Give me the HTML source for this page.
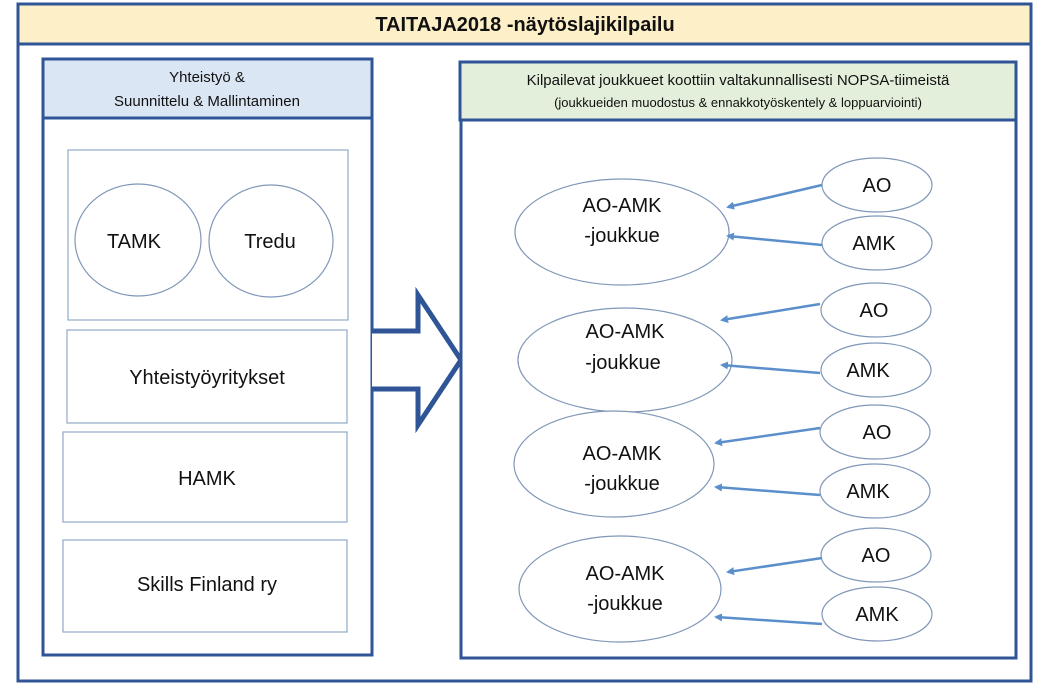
<!DOCTYPE html>
<html><head><meta charset="utf-8"><style>
body{margin:0;background:#fff;width:1042px;height:690px;overflow:hidden}
svg text{font-family:"Liberation Sans",sans-serif;fill:#111}
</style></head><body>
<svg width="1042" height="690" viewBox="0 0 1042 690">
<defs><marker id="a" markerWidth="8" markerHeight="8" refX="6" refY="4" orient="auto" markerUnits="userSpaceOnUse"><path d="M0,0 L8,4 L0,8 z" fill="#5b8fcc"/></marker></defs>
<rect x="18" y="4" width="1013" height="40" fill="#fdefc8" stroke="#2f5597" stroke-width="3"/>
<text x="525" y="31" font-size="20" font-weight="bold" text-anchor="middle">TAITAJA2018 -näytöslajikilpailu</text>
<rect x="18" y="44" width="1013" height="637" fill="#fff" stroke="#2f5597" stroke-width="3"/>
<rect x="43" y="59" width="329" height="59" fill="#dbe6f4" stroke="#2f5597" stroke-width="3"/>
<text x="207" y="82" font-size="15" text-anchor="middle">Yhteistyö &amp;</text>
<text x="207" y="106" font-size="15" text-anchor="middle">Suunnittelu &amp; Mallintaminen</text>
<rect x="43" y="118" width="329" height="537" fill="#fff" stroke="#2f5597" stroke-width="3"/>
<rect x="68" y="150" width="280" height="170" fill="none" stroke="#8fa9c9" stroke-width="1.2"/>
<ellipse cx="138" cy="240" rx="63" ry="56" fill="#fff" stroke="#8097b8" stroke-width="1.2"/>
<ellipse cx="271" cy="241" rx="62" ry="56" fill="#fff" stroke="#8097b8" stroke-width="1.2"/>
<text x="134" y="248" font-size="20" text-anchor="middle">TAMK</text>
<text x="270" y="248" font-size="20" text-anchor="middle">Tredu</text>
<rect x="67" y="330" width="280" height="93" fill="none" stroke="#8fa9c9" stroke-width="1.2"/>
<text x="207" y="384" font-size="20" text-anchor="middle">Yhteistyöyritykset</text>
<rect x="63" y="432" width="284" height="90" fill="none" stroke="#8fa9c9" stroke-width="1.2"/>
<text x="207" y="485" font-size="20" text-anchor="middle">HAMK</text>
<rect x="63" y="540" width="284" height="92" fill="none" stroke="#8fa9c9" stroke-width="1.2"/>
<text x="207" y="591" font-size="20" text-anchor="middle">Skills Finland ry</text>
<path d="M372,331 L418,331 L418,295 L461,360 L418,425 L418,389 L372,389" fill="#fff" stroke="#2f5597" stroke-width="5" stroke-linejoin="miter"/>
<rect x="460" y="62" width="556" height="58" fill="#e3efdb" stroke="#2f5597" stroke-width="3"/>
<text x="738" y="85" font-size="15" text-anchor="middle">Kilpailevat joukkueet koottiin valtakunnallisesti NOPSA-tiimeistä</text>
<text x="738" y="107" font-size="13" text-anchor="middle">(joukkueiden muodostus &amp; ennakkotyöskentely &amp; loppuarviointi)</text>
<rect x="461" y="120" width="555" height="538" fill="#fff" stroke="#2f5597" stroke-width="3"/>
<g stroke="#8097b8" stroke-width="1.2" fill="#fff">
<ellipse cx="622" cy="232" rx="107" ry="53"/><ellipse cx="877" cy="185" rx="55" ry="27"/><ellipse cx="877" cy="243" rx="55" ry="27"/>
<ellipse cx="625" cy="360" rx="107" ry="52"/><ellipse cx="876" cy="310" rx="55" ry="27"/><ellipse cx="876" cy="370" rx="55" ry="27"/>
<ellipse cx="614" cy="464" rx="100" ry="53"/><ellipse cx="875" cy="432" rx="55" ry="27"/><ellipse cx="875" cy="491" rx="55" ry="27"/>
<ellipse cx="620" cy="589" rx="101" ry="53"/><ellipse cx="876" cy="555" rx="55" ry="27"/><ellipse cx="877" cy="614" rx="55" ry="27"/>
</g>
<g stroke="#5b8fcc" stroke-width="2.5" marker-end="url(#a)">
<line x1="822" y1="185" x2="728" y2="207"/><line x1="822" y1="245" x2="728" y2="236"/>
<line x1="820" y1="304" x2="722" y2="320"/><line x1="820" y1="373" x2="722" y2="365"/>
<line x1="820" y1="428" x2="716" y2="443"/><line x1="820" y1="495" x2="716" y2="487"/>
<line x1="822" y1="558" x2="728" y2="572"/><line x1="822" y1="624" x2="716" y2="617"/>
</g>
<g font-size="20" text-anchor="middle">
<text x="622" y="212">AO-AMK</text><text x="622" y="242">-joukkue</text>
<text x="877" y="192">AO</text><text x="874" y="250">AMK</text>
<text x="625" y="338">AO-AMK</text><text x="623" y="369">-joukkue</text>
<text x="874" y="317">AO</text><text x="868" y="377">AMK</text>
<text x="622" y="460">AO-AMK</text><text x="622" y="490">-joukkue</text>
<text x="877" y="439">AO</text><text x="868" y="498">AMK</text>
<text x="625" y="580">AO-AMK</text><text x="625" y="610">-joukkue</text>
<text x="876" y="562">AO</text><text x="877" y="621">AMK</text>
</g>
</svg>
</body></html>
